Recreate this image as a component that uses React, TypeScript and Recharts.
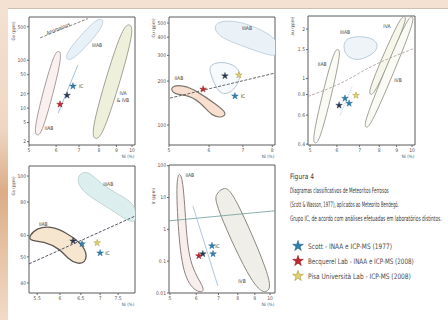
import React, { useLayoutEffect, useRef, useState } from 'react'
import {
  ReferenceArea,
  ReferenceDot,
  Scatter,
  ScatterChart,
  Symbols,
  XAxis,
  YAxis,
} from 'recharts'

type Pt = { x: number; y: number }
type Tag = { x: number; y: number; text: string; angle?: number }

const FONT = '"Liberation Sans Narrow", "DejaVu Sans Condensed", "Liberation Sans", sans-serif'

// ---------- panel 1 (Ge x Ni)
const p1XTicks = [5, 6, 7, 8, 9, 10]
const p1YTicks = [2, 5, 10, 20, 50, 100, 500]
const p1IIAB: Pt[] = [
  { x: 5.28, y: 2.55 }, { x: 5.49, y: 3.09 }, { x: 6.28, y: 123 },
  { x: 6.12, y: 165 }, { x: 5.88, y: 136 }, { x: 5.13, y: 3.41 },
]
const p1IIIAB: Pt[] = [
  { x: 6.41, y: 150 }, { x: 6.41, y: 101 }, { x: 6.77, y: 101 },
  { x: 8.28, y: 502 }, { x: 8.22, y: 740 }, { x: 7.84, y: 740 },
]
const p1IVAB: Pt[] = [
  { x: 7.53, y: 3.25 }, { x: 7.79, y: 2.1 }, { x: 8.28, y: 2.67 },
  { x: 10.2, y: 394 }, { x: 9.87, y: 610 }, { x: 9.28, y: 478 },
]
const p1Anomalous: Pt[] = [{ x: 5.39, y: 294 }, { x: 7.43, y: 740 }]
const p1Trend: Pt[] = [{ x: 6.95, y: 79.6 }, { x: 6.08, y: 7.8 }]
const p1Scott: Pt[] = [{ x: 6.72, y: 28.7 }]
const p1Dark: Pt[] = [{ x: 6.46, y: 18.5 }]
const p1Becq: Pt[] = [{ x: 6.16, y: 12.0 }]
const p1Tags: Tag[] = [
  { x: 6.08, y: 456, text: 'Anomalous', angle: -22 },
  { x: 7.9, y: 210, text: 'IIIAB' },
  { x: 5.72, y: 3.76, text: 'IIAB' },
  { x: 9.41, y: 20.5, text: 'IVA' },
  { x: 9.41, y: 14.6, text: '& IVB' },
  { x: 7.1, y: 28.7, text: 'IC' },
]

// ---------- panel 2 (Cu x Ni)
const p2XTicks = [5, 6, 7, 8]
const p2YTicks = [100, 200, 300, 400, 500]
const p2IIIAB: Pt[] = [
  { x: 6.19, y: 508 }, { x: 6.66, y: 524 }, { x: 7.39, y: 477 },
  { x: 8.28, y: 382 }, { x: 8.28, y: 288 }, { x: 7.63, y: 311 },
  { x: 6.91, y: 353 }, { x: 6.36, y: 394 }, { x: 6.14, y: 448 },
]
const p2IC: Pt[] = [
  { x: 6.0, y: 262 }, { x: 6.45, y: 274 }, { x: 6.91, y: 246 },
  { x: 6.91, y: 203 }, { x: 6.66, y: 166 }, { x: 6.31, y: 161 },
  { x: 6.14, y: 194 }, { x: 6.03, y: 227 },
]
const p2IIAB: Pt[] = [
  { x: 5.02, y: 185 }, { x: 5.33, y: 188 }, { x: 5.68, y: 171 },
  { x: 6.22, y: 137 }, { x: 6.51, y: 121 }, { x: 6.39, y: 112 },
  { x: 6.08, y: 115 }, { x: 5.84, y: 137 }, { x: 5.5, y: 161 },
  { x: 5.09, y: 161 },
]
const p2Dashed: Pt[] = [{ x: 5.02, y: 153 }, { x: 8.1, y: 227 }]
const p2Scott: Pt[] = [{ x: 6.75, y: 158 }]
const p2Dark: Pt[] = [{ x: 6.45, y: 217 }]
const p2Becq: Pt[] = [{ x: 5.84, y: 176 }]
const p2Pisa: Pt[] = [{ x: 6.87, y: 220 }]
const p2Tags: Tag[] = [
  { x: 7.13, y: 462, text: 'IIIAB' },
  { x: 5.23, y: 210, text: 'IIAB' },
  { x: 7.0, y: 158, text: 'IC' },
]

// ---------- panel 3 (Au x Ni)
const p3XTicks = [5, 6, 7, 8, 9, 10]
const p3YTicks = [0.4, 0.6, 0.8, 1, 1.5, 2]
const p3IIAB: Pt[] = [
  { x: 5.05, y: 0.429 }, { x: 5.17, y: 0.4 }, { x: 5.36, y: 0.417 },
  { x: 6.19, y: 1.414 }, { x: 6.06, y: 1.535 }, { x: 5.83, y: 1.454 },
]
const p3IIIAB: Pt[] = [
  { x: 6.34, y: 1.79 }, { x: 7.36, y: 1.816 }, { x: 7.93, y: 1.67 },
  { x: 7.88, y: 1.475 }, { x: 7.41, y: 1.357 }, { x: 6.88, y: 1.283 },
  { x: 6.43, y: 1.357 }, { x: 6.26, y: 1.516 },
]
const p3IVA: Pt[] = [
  { x: 7.41, y: 0.85 }, { x: 7.52, y: 0.79 }, { x: 7.8, y: 0.813 },
  { x: 9.66, y: 2.25 }, { x: 9.53, y: 2.42 }, { x: 9.19, y: 2.35 },
]
const p3IVB: Pt[] = [
  { x: 7.17, y: 0.541 }, { x: 7.29, y: 0.498 }, { x: 7.59, y: 0.516 },
  { x: 10.2, y: 2.22 }, { x: 10.03, y: 2.41 }, { x: 9.63, y: 2.33 },
]
const p3Dashed: Pt[] = [
  { x: 4.93, y: 0.779 }, { x: 6.13, y: 0.933 }, { x: 7.67, y: 1.198 }, { x: 10.07, y: 1.516 },
]
const p3Trend: Pt[] = [{ x: 6.65, y: 0.895 }, { x: 6.13, y: 0.598 }]
const p3Scott: Pt[] = [{ x: 6.34, y: 0.758 }, { x: 6.52, y: 0.707 }]
const p3Dark: Pt[] = [{ x: 6.09, y: 0.688 }]
const p3Pisa: Pt[] = [{ x: 6.83, y: 0.79 }]
const p3Tags: Tag[] = [
  { x: 5.43, y: 1.231, text: 'IIAB' },
  { x: 6.34, y: 1.92, text: 'IIIAB' },
  { x: 8.43, y: 2.09, text: 'IVA' },
  { x: 9.09, y: 0.973, text: 'IVB' },
]

// ---------- panel 4 (Ga x Ni)
const p4XTicks = [5.5, 6, 6.5, 7, 7.5]
const p4YTicks = [40, 50, 60, 80, 100]
const p4IIIAB: Pt[] = [
  { x: 6.49, y: 102.6 }, { x: 6.69, y: 104.4 }, { x: 7.0, y: 94.2 },
  { x: 7.47, y: 85.7 }, { x: 8.01, y: 79.4 }, { x: 8.07, y: 66.9 },
  { x: 7.77, y: 68.0 }, { x: 7.28, y: 75.4 }, { x: 6.82, y: 82.1 },
  { x: 6.49, y: 89.5 }, { x: 6.41, y: 97.5 },
]
const p4IIAB: Pt[] = [
  { x: 5.33, y: 59.8 }, { x: 5.5, y: 64.1 }, { x: 5.78, y: 65.2 },
  { x: 6.17, y: 61.4 }, { x: 6.49, y: 56.4 }, { x: 6.66, y: 51.7 },
  { x: 6.61, y: 47.5 }, { x: 6.41, y: 47.1 }, { x: 6.19, y: 49.1 },
  { x: 6.01, y: 53.5 }, { x: 5.63, y: 57.3 }, { x: 5.35, y: 57.3 },
]
const p4Dashed: Pt[] = [{ x: 5.33, y: 47.1 }, { x: 8.01, y: 71.0 }]
const p4Scott: Pt[] = [{ x: 7.0, y: 51.7 }, { x: 6.53, y: 55.9 }]
const p4Dark: Pt[] = [{ x: 6.31, y: 57.3 }]
const p4Pisa: Pt[] = [{ x: 6.92, y: 56.4 }]
const p4Tags: Tag[] = [
  { x: 7.22, y: 93.4, text: 'IIIAB' },
  { x: 5.63, y: 66.3, text: 'IIAB' },
  { x: 7.2, y: 51.7, text: 'IC' },
]

// ---------- panel 5 (Ir x Ni)
const p5XTicks = [5, 6, 7, 8, 9, 10]
const p5YTicks = [0.01, 0.1, 1, 10, 100]
const p5IIAB: Pt[] = [
  { x: 5.21, y: 60.2 }, { x: 5.47, y: 64.7 }, { x: 5.58, y: 1.29 },
  { x: 5.74, y: 0.0613 }, { x: 6.51, y: 0.0107 }, { x: 5.99, y: 0.01 },
  { x: 5.47, y: 0.0343 }, { x: 5.28, y: 1.29 },
]
const p5IVB: Pt[] = [
  { x: 6.88, y: 13.1 }, { x: 7.27, y: 21.8 }, { x: 7.74, y: 16.3 },
  { x: 10.07, y: 0.0297 }, { x: 10.0, y: 0.01 }, { x: 9.02, y: 0.01 },
  { x: 6.79, y: 6.83 },
]
const p5Divider: Pt[] = [{ x: 4.97, y: 1.85 }, { x: 10.35, y: 3.83 }]
const p5Trend: Pt[] = [{ x: 5.86, y: 5.5 }, { x: 6.97, y: 0.0166 }]
const p5Scott: Pt[] = [{ x: 6.69, y: 0.302 }, { x: 6.74, y: 0.169 }]
const p5Becq: Pt[] = [{ x: 6.11, y: 0.146 }]
const p5Dark: Pt[] = [{ x: 6.28, y: 0.169 }]
const p5Tags: Tag[] = [
  { x: 5.74, y: 48.4, text: 'IIAB' },
  { x: 8.24, y: 0.0239, text: 'IVB' },
  { x: 6.95, y: 0.3, text: 'IC' },
]

const captionLines = [
  'Figura 4',
  'Diagramas classificativos de Meteoritos Ferrosos',
  '(Scott & Wasson, 1977), aplicados ao Meteorito Bendegó.',
  'Grupo IC, de acordo com análises efetuadas em laboratórios distintos.',
]
const legendLabels = [
  'Scott - INAA e ICP-MS (1977)',
  'Becquerel Lab - INAA e ICP-MS (2008)',
  'Pisa Università Lab - ICP-MS (2008)',
]

const SCOTT = '#2f7fb0'
const BECQ = '#c0282d'
const PISA = '#e2d070'
const DARK = '#2a3550'
const legendColors = [
  [SCOTT, '#1c5a80'],
  [BECQ, '#801010'],
  [PISA, '#9c8a2c'],
]

const YW = 20
const XH = 18
const MT = 4
const MR = 4

const noDot = () => <g />

const star = (fill: string, stroke: string) => (props: any) => (
  <Symbols type="star" cx={props.cx} cy={props.cy} size={14} fill={fill} stroke={stroke} strokeWidth={0.4} />
)

function region(key: string, data: Pt[], fill: string, stroke: string, width = 0.8) {
  return (
    <Scatter
      key={key}
      data={data}
      shape={noDot}
      line={{ fill, stroke, strokeWidth: width }}
      lineJointType="basisClosed"
      isAnimationActive={false}
    />
  )
}

function trace(key: string, data: Pt[], stroke: string, dash?: string, width = 0.8) {
  return (
    <Scatter
      key={key}
      data={data}
      shape={noDot}
      line={{ fill: 'none', stroke, strokeWidth: width, strokeDasharray: dash }}
      lineJointType="monotoneX"
      isAnimationActive={false}
    />
  )
}

function marks(key: string, data: Pt[], fill: string, stroke: string) {
  return <Scatter key={key} data={data} shape={star(fill, stroke)} isAnimationActive={false} />
}

function tags(prefix: string, list: Tag[]) {
  return list.map((t, i) => (
    <ReferenceDot
      key={`${prefix}-${i}`}
      x={t.x}
      y={t.y}
      r={0.01}
      fill="none"
      stroke="none"
      ifOverflow="visible"
      label={{ value: t.text, position: 'center', fontSize: 5, fill: '#444', angle: t.angle ?? 0, fontFamily: FONT }}
    />
  ))
}

interface PanelProps {
  x0: number
  y0: number
  x1: number
  y1: number
  xDomain: [number, number]
  yDomain: [number, number]
  xTicks: number[]
  yTicks: number[]
  yLabel: string
  yLabelDy: number
  children: React.ReactNode
}

const tickStyle = { fontSize: 5, fill: '#555', fontFamily: FONT }

function Panel({ x0, y0, x1, y1, xDomain, yDomain, xTicks, yTicks, yLabel, yLabelDy, children }: PanelProps) {
  const width = x1 - x0 + YW + MR
  const height = y1 - y0 + MT + XH
  return (
    <div style={{ position: 'absolute', left: x0 - YW, top: y0 - MT }}>
      <ScatterChart width={width} height={height} margin={{ top: MT, right: MR, bottom: 0, left: 0 }}>
        <XAxis
          type="number"
          dataKey="x"
          scale="log"
          domain={xDomain}
          ticks={xTicks}
          allowDataOverflow
          interval={0}
          height={XH}
          tick={tickStyle}
          tickSize={2}
          tickMargin={1}
          axisLine={false}
          tickLine={{ stroke: '#666' }}
          label={{
            content: (p: any) => (
              <text
                x={p.viewBox.x + p.viewBox.width - 7}
                y={p.viewBox.y + 13}
                fontSize={4.5}
                fill="#555"
                textAnchor="middle"
                fontFamily={FONT}
              >
                Ni (%)
              </text>
            ),
          }}
        />
        <YAxis
          type="number"
          dataKey="y"
          scale="log"
          domain={yDomain}
          ticks={yTicks}
          allowDataOverflow
          interval={0}
          width={YW}
          tick={tickStyle}
          tickSize={2}
          tickMargin={1}
          axisLine={false}
          tickLine={{ stroke: '#666' }}
          label={{
            content: (p: any) => {
              const lx = p.viewBox.x + 6
              const ly = p.viewBox.y + yLabelDy
              return (
                <text
                  x={lx}
                  y={ly}
                  fontSize={4.5}
                  fill="#555"
                  textAnchor="middle"
                  fontFamily={FONT}
                  transform={`rotate(-90 ${lx} ${ly})`}
                >
                  {yLabel}
                </text>
              )
            },
          }}
        />
        {children}
        <ReferenceArea
          x1={xDomain[0]}
          x2={xDomain[1]}
          y1={yDomain[0]}
          y2={yDomain[1]}
          fill="none"
          stroke="#5a5a5a"
          strokeWidth={1}
          ifOverflow="visible"
        />
      </ScatterChart>
    </div>
  )
}

// squeezes a line of text horizontally to the width it has in the figure
function FitText({ x, y, width, size, fill, children }: { x: number; y: number; width: number; size: number; fill: string; children: string }) {
  const ref = useRef<SVGTextElement>(null)
  const [sx, setSx] = useState(1)
  useLayoutEffect(() => {
    const el = ref.current
    if (!el) return
    const w = el.getComputedTextLength()
    if (w > 0) setSx(width / w)
  }, [width, children])
  return (
    <text ref={ref} transform={`translate(${x} ${y}) scale(${sx} 1)`} fontSize={size} fill={fill} fontFamily={FONT}>
      {children}
    </text>
  )
}

export default function App() {
  return (
    <div
      style={{
        position: 'absolute',
        left: 0,
        top: 0,
        width: 448,
        height: 320,
        overflow: 'hidden',
        background:
          'linear-gradient(180deg, #f3e1d2 0%, #efd7c4 40%, #dcac86 60%, #e6c2a3 78%, #f1dbc9 100%)',
      }}
    >
      <div
        style={{
          position: 'absolute',
          left: 8,
          top: 8,
          right: 0,
          bottom: 0,
          background: '#fff',
          borderTop: '1px solid #cdbfb2',
        }}
      />

      <Panel x0={29} y0={17} x1={135} y1={145} xDomain={[5, 10.2]} yDomain={[1.7, 800]}
        xTicks={p1XTicks} yTicks={p1YTicks} yLabel="Ge (ppm)" yLabelDy={14}>
        {region('p1a', p1IIIAB, '#e8f1f8', '#b6c9d8')}
        {region('p1b', p1IIAB, '#fbf0f0', '#8f8585')}
        {region('p1c', p1IVAB, '#eef0dc', '#8c8c7c')}
        {trace('p1d', p1Anomalous, '#666', '3 1.5')}
        {trace('p1e', p1Trend, '#8fb4d8')}
        {marks('p1f', p1Scott, SCOTT, '#1c5a80')}
        {marks('p1g', p1Dark, DARK, DARK)}
        {marks('p1h', p1Becq, BECQ, '#801010')}
        {tags('p1t', p1Tags)}
      </Panel>

      <Panel x0={169} y0={17} x1={275} y1={145} xDomain={[5, 8.1]} yDomain={[73, 550]}
        xTicks={p2XTicks} yTicks={p2YTicks} yLabel="Cu (ppm)" yLabelDy={11}>
        {region('p2a', p2IIIAB, '#eaf2f8', '#b6c8d6')}
        {region('p2b', p2IC, '#f7fafc', '#9fb6c8')}
        {region('p2c', p2IIAB, '#f8dfcf', '#7f776f', 1.2)}
        {trace('p2d', p2Dashed, '#666', '3 1.5', 1)}
        {marks('p2e', p2Scott, SCOTT, '#1c5a80')}
        {marks('p2f', p2Dark, DARK, DARK)}
        {marks('p2g', p2Becq, BECQ, '#801010')}
        {marks('p2h', p2Pisa, PISA, '#9c8a2c')}
        {tags('p2t', p2Tags)}
      </Panel>

      <Panel x0={308} y0={16} x1={415} y1={145} xDomain={[4.93, 10.2]} yDomain={[0.395, 2.4]}
        xTicks={p3XTicks} yTicks={p3YTicks} yLabel="Au (ppm)" yLabelDy={10}>
        {region('p3a', p3IIIAB, '#eef4f8', '#aac0d0')}
        {region('p3b', p3IIAB, '#fbfbf6', '#8a8a80')}
        {region('p3c', p3IVA, '#f6f7ea', '#8a8a80')}
        {region('p3d', p3IVB, '#fbfbf6', '#8a8a80')}
        {trace('p3e', p3Dashed, '#b09a96', '3 1.5')}
        {trace('p3f', p3Trend, '#9cc0de', '1 1')}
        {marks('p3g', p3Scott, SCOTT, '#1c5a80')}
        {marks('p3h', p3Dark, DARK, DARK)}
        {marks('p3i', p3Pisa, PISA, '#9c8a2c')}
        {tags('p3t', p3Tags)}
      </Panel>

      <Panel x0={29} y0={166} x1={135} y1={293} xDomain={[5.33, 8.0]} yDomain={[36.7, 109]}
        xTicks={p4XTicks} yTicks={p4YTicks} yLabel="Ga (ppm)" yLabelDy={20}>
        {region('p4a', p4IIIAB, '#dceeed', '#b8cccc')}
        {region('p4b', p4IIAB, '#f6e6cf', '#5e5852', 1.3)}
        {trace('p4c', p4Dashed, '#556', '3 1.5', 1)}
        {marks('p4d', p4Scott, SCOTT, '#1c5a80')}
        {marks('p4e', p4Dark, DARK, DARK)}
        {marks('p4f', p4Pisa, PISA, '#9c8a2c')}
        {tags('p4t', p4Tags)}
      </Panel>

      <Panel x0={169} y0={165} x1={275} y1={293} xDomain={[4.97, 10.35]} yDomain={[0.01, 105]}
        xTicks={p5XTicks} yTicks={p5YTicks} yLabel="Ir (ppm)" yLabelDy={31}>
        {region('p5a', p5IIAB, '#f8efec', '#8a8080', 1)}
        {region('p5b', p5IVB, '#efeee8', '#888880', 1)}
        {trace('p5c', p5Divider, '#6f9a9a')}
        {trace('p5d', p5Trend, '#9cb8e0')}
        {marks('p5e', p5Scott, SCOTT, '#1c5a80')}
        {marks('p5f', p5Becq, BECQ, '#801010')}
        {marks('p5g', p5Dark, DARK, DARK)}
        {tags('p5t', p5Tags)}
      </Panel>

      <svg width={448} height={320} style={{ position: 'absolute', left: 0, top: 0, pointerEvents: 'none' }}>
        <FitText x={290} y={179} width={24} size={7.5} fill="#3a3a3a">{captionLines[0]}</FitText>
        <FitText x={290} y={193} width={99} size={7.5} fill="#3a3a3a">{captionLines[1]}</FitText>
        <FitText x={290} y={207} width={109} size={7.5} fill="#3a3a3a">{captionLines[2]}</FitText>
        <FitText x={290} y={221} width={152} size={7.5} fill="#3a3a3a">{captionLines[3]}</FitText>
        <FitText x={308} y={249} width={84} size={7.5} fill="#4a4a4a">{legendLabels[0]}</FitText>
        <FitText x={308} y={264} width={106} size={7.5} fill="#4a4a4a">{legendLabels[1]}</FitText>
        <FitText x={308} y={279} width={103} size={7.5} fill="#4a4a4a">{legendLabels[2]}</FitText>
        {legendColors.map(([fill, stroke], i) => (
          <Symbols key={i} type="star" cx={298} cy={246 + i * 15} size={36} fill={fill} stroke={stroke} strokeWidth={0.5} />
        ))}
      </svg>
    </div>
  )
}
